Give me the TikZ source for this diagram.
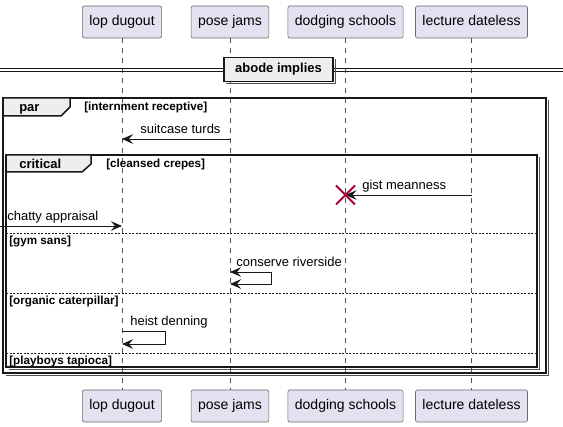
\documentclass[tikz,border=0pt]{standalone}
\usepackage{fontspec}
\setmainfont{Liberation Sans}
\usetikzlibrary{arrows.meta}
\definecolor{partfill}{HTML}{E2E2F0}
\definecolor{partline}{HTML}{181818}
\definecolor{tabfill}{HTML}{EEEEEE}
\definecolor{killred}{HTML}{A80036}

\begin{document}
\begin{tikzpicture}[x=1pt,y=-1pt,semithick,
  umlhead/.tip={Stealth[length=11pt,width=9.5pt,inset=4pt]},
  part/.style={draw=partline!65, fill=partfill, rounded corners=2pt, line width=0.6pt,
    minimum height=32pt, inner xsep=7pt, text height=10pt, text depth=3pt,
    font=\fontsize{14}{16}\selectfont},
  life/.style={draw=partline!75, line width=0.6pt, dash pattern=on 5pt off 5pt},
  msg/.style={font=\fontsize{13}{15}\selectfont, inner sep=0pt, anchor=base west},
  cond/.style={font=\bfseries\fontsize{11.7}{13}\selectfont, inner sep=0pt, anchor=base west},
  grp/.style={font=\bfseries\fontsize{13}{15}\selectfont, inner sep=0pt, anchor=base west},
  arr/.style={-umlhead, line width=0.9pt, draw=partline},
  frm/.style={draw=partline, line width=1.5pt},
  shd/.style={draw=partline!75, line width=1pt},
  sepline/.style={draw=partline, line width=0.7pt, dash pattern=on 2pt off 1.5pt}]
  \useasboundingbox (0,0) rectangle (563,427);

  % participants
  \foreach \nm/\xx/\tx in {lop/122/lop dugout, pose/230/pose jams,
      dodge/345.5/dodging schools, lect/471.5/lecture dateless}{
    \node[part] (\nm T) at (\xx,22) {\tx};
    \node[part] (\nm B) at (\xx,406) {\tx};
    \draw[life] (\nm T) -- (\nm B);
  }

  % divider
  \draw[partline, line width=0.9pt] (0,68) -- (224,68) (0,71.5) -- (224,71.5)
    (333,68) -- (563,68) (333,71.5) -- (563,71.5);
  \draw[shd] (335.5,59) -- (335.5,84) -- (226,84);
  \node[draw=partline, line width=1.6pt, fill=tabfill, minimum width=109pt,
    minimum height=24pt, inner sep=0pt, font=\bfseries\fontsize{13}{15}\selectfont]
    (dv) at (278.5,69.5) {abode implies};

  % par
  \draw[shd] (548.5,100.5) -- (548.5,375.5) -- (5.5,375.5);
  \draw[frm] (3,98) rectangle (546,373);
  \draw[frm, fill=tabfill] (3,98) -- (70,98) -- (70,107) -- (61,116) -- (3,116) -- cycle;
  \node[grp] (pr) at (19,112) {par};
  \node[cond] (pc) at (84,111) {[internment receptive]};

  \coordinate (s1) at (poseT |- 0,139);
  \coordinate (e1) at (lopT |- 0,139);
  \draw[arr] (s1) -- (e1);
  \node[msg] (m1) at (140,134) {suitcase turds};

  % critical
  \draw[shd] (539,157) -- (539,369.5) -- (8.5,369.5);
  \draw[frm] (6,155) rectangle (537,367);
  \draw[frm, fill=tabfill] (6,155) -- (91,155) -- (91,164) -- (82,172) -- (6,172) -- cycle;
  \node[grp] (cr) at (19,168.5) {critical};
  \node[cond] (cc) at (106,168) {[cleansed crepes]};

  \coordinate (s2) at (lectT |- 0,195);
  \coordinate (e2) at (dodgeT |- 0,195);
  \draw[arr] (s2) -- (e2);
  \node[msg] (m2) at (362,190) {gist meanness};
  \draw[killred, line width=1.8pt] ([shift={(-9.5,-9.5)}]e2) -- ([shift={(9.5,9.5)}]e2)
    ([shift={(-9.5,9.5)}]e2) -- ([shift={(9.5,-9.5)}]e2);

  \coordinate (s3) at (0,226);
  \coordinate (e3) at (lopT |- 0,226);
  \draw[arr] (s3) -- (e3);
  \node[msg] (m3) at (7,220.5) {chatty appraisal};

  \draw[sepline] (6,233) -- (537,233);
  \node[cond] (g1) at (9,245) {[gym sans]};

  \coordinate (s4) at (poseT |- 0,272);
  \coordinate (e4) at (poseT |- 0,284);
  \draw[arr, umlhead-umlhead] (s4) -- ++(41,0) |- (e4);
  \node[msg] (m4) at (236,266.5) {conserve riverside};

  \draw[sepline] (6,293) -- (537,293);
  \node[cond] (g2) at (9,304.5) {[organic caterpillar]};

  \coordinate (s5) at (lopT |- 0,331);
  \coordinate (e5) at (lopT |- 0,344);
  \draw[arr] (s5) -- ++(43,0) |- (e5);
  \node[msg] (m5) at (130,326) {heist denning};

  \draw[sepline] (6,353) -- (537,353);
  \node[cond] (g3) at (9,364.5) {[playboys tapioca]};
\end{tikzpicture}
\end{document}
